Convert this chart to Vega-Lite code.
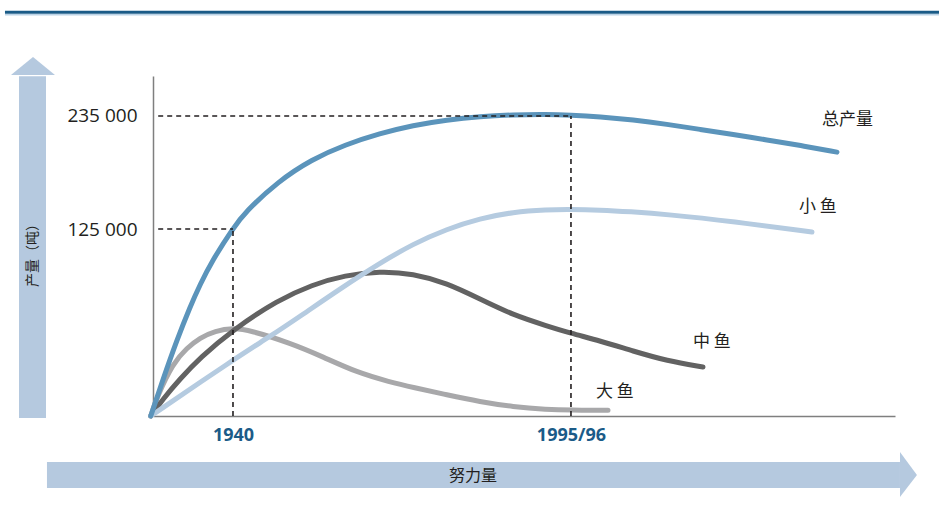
{
  "$schema": "https://vega.github.io/schema/vega-lite/v6.json",
  "width": 742,
  "height": 340,
  "autosize": {"type": "none"},
  "padding": {"left": 153, "top": 76, "right": 44, "bottom": 98},
  "background": "#ffffff",
  "config": {"view": {"stroke": null}, "font": "Open Sans"},
  "datasets": {
    "curves": [
      {"s": "大鱼", "x": -0.3, "y": 0}, {"s": "大鱼", "x": 0.54, "y": 5.6}, {"s": "大鱼", "x": 2.7, "y": 15.6}, {"s": "大鱼", "x": 4.58, "y": 20.0}, {"s": "大鱼", "x": 6.33, "y": 23.0}, {"s": "大鱼", "x": 8.36, "y": 25.0}, {"s": "大鱼", "x": 10.78, "y": 25.9}, {"s": "大鱼", "x": 13.07, "y": 25.2}, {"s": "大鱼", "x": 18.46, "y": 21.5}, {"s": "大鱼", "x": 22.91, "y": 17.4}, {"s": "大鱼", "x": 27.49, "y": 12.8}, {"s": "大鱼", "x": 31.94, "y": 10.0}, {"s": "大鱼", "x": 35.04, "y": 8.4}, {"s": "大鱼", "x": 39.62, "y": 6.2}, {"s": "大鱼", "x": 44.07, "y": 4.2}, {"s": "大鱼", "x": 48.52, "y": 2.7}, {"s": "大鱼", "x": 53.1, "y": 1.9}, {"s": "大鱼", "x": 56.2, "y": 1.7}, {"s": "大鱼", "x": 61.32, "y": 1.7},
      {"s": "中鱼", "x": -0.3, "y": 0}, {"s": "中鱼", "x": 1.35, "y": 5.0}, {"s": "中鱼", "x": 3.64, "y": 10.9}, {"s": "中鱼", "x": 6.33, "y": 17.1}, {"s": "中鱼", "x": 10.78, "y": 25.4}, {"s": "中鱼", "x": 16.85, "y": 34.1}, {"s": "中鱼", "x": 21.43, "y": 38.6}, {"s": "中鱼", "x": 25.88, "y": 41.4}, {"s": "中鱼", "x": 30.59, "y": 42.6}, {"s": "中鱼", "x": 35.04, "y": 41.9}, {"s": "中鱼", "x": 39.62, "y": 39.1}, {"s": "中鱼", "x": 44.07, "y": 34.4}, {"s": "中鱼", "x": 48.52, "y": 29.7}, {"s": "中鱼", "x": 53.1, "y": 26.5}, {"s": "中鱼", "x": 56.2, "y": 24.4}, {"s": "中鱼", "x": 60.24, "y": 22.1}, {"s": "中鱼", "x": 64.69, "y": 19.1}, {"s": "中鱼", "x": 69.27, "y": 16.2}, {"s": "中鱼", "x": 74.12, "y": 14.4},
      {"s": "小鱼", "x": -0.3, "y": 0}, {"s": "小鱼", "x": 10.78, "y": 16.5}, {"s": "小鱼", "x": 15.63, "y": 23.2}, {"s": "小鱼", "x": 19.81, "y": 29.3}, {"s": "小鱼", "x": 25.2, "y": 37.4}, {"s": "小鱼", "x": 30.59, "y": 45.0}, {"s": "小鱼", "x": 35.04, "y": 50.6}, {"s": "小鱼", "x": 39.62, "y": 55.0}, {"s": "小鱼", "x": 44.07, "y": 58.1}, {"s": "小鱼", "x": 48.52, "y": 60.0}, {"s": "小鱼", "x": 53.1, "y": 60.7}, {"s": "小鱼", "x": 56.2, "y": 60.8}, {"s": "小鱼", "x": 60.24, "y": 60.6}, {"s": "小鱼", "x": 64.29, "y": 60.1}, {"s": "小鱼", "x": 69.27, "y": 59.3}, {"s": "小鱼", "x": 78.17, "y": 57.2}, {"s": "小鱼", "x": 88.81, "y": 54.1},
      {"s": "总产量", "x": -0.3, "y": 0}, {"s": "总产量", "x": 1.35, "y": 10.8}, {"s": "总产量", "x": 3.23, "y": 22.4}, {"s": "总产量", "x": 4.99, "y": 32.1}, {"s": "总产量", "x": 6.33, "y": 38.6}, {"s": "总产量", "x": 7.95, "y": 45.6}, {"s": "总产量", "x": 10.78, "y": 55.2}, {"s": "总产量", "x": 12.4, "y": 59.9}, {"s": "总产量", "x": 16.85, "y": 69.0}, {"s": "总产量", "x": 21.43, "y": 75.5}, {"s": "总产量", "x": 25.88, "y": 79.8}, {"s": "总产量", "x": 30.59, "y": 83.1}, {"s": "总产量", "x": 35.04, "y": 85.5}, {"s": "总产量", "x": 39.62, "y": 87.1}, {"s": "总产量", "x": 44.07, "y": 88.1}, {"s": "总产量", "x": 48.52, "y": 88.6}, {"s": "总产量", "x": 53.1, "y": 88.7}, {"s": "总产量", "x": 56.2, "y": 88.5}, {"s": "总产量", "x": 60.24, "y": 88.0}, {"s": "总产量", "x": 64.69, "y": 87.1}, {"s": "总产量", "x": 69.27, "y": 85.8}, {"s": "总产量", "x": 73.72, "y": 84.3}, {"s": "总产量", "x": 78.17, "y": 82.8}, {"s": "总产量", "x": 82.75, "y": 81.2}, {"s": "总产量", "x": 87.2, "y": 79.6}, {"s": "总产量", "x": 92.18, "y": 77.6}
    ],
    "dashes": [
      {"x": 0.7, "x2": 56.33, "y": 88.24, "y2": 88.24},
      {"x": 0.7, "x2": 10.78, "y": 55.0, "y2": 55.0},
      {"x": 10.78, "x2": 10.78, "y": 0, "y2": 55.0},
      {"x": 56.33, "x2": 56.33, "y": 0, "y2": 88.24}
    ],
    "labels": [
      {"t": "总产量", "x": 90.16, "y": 87.06},
      {"t": "小 鱼", "x": 87.06, "y": 61.47},
      {"t": "中 鱼", "x": 72.78, "y": 21.76},
      {"t": "大 鱼", "x": 59.7, "y": 7.06}
    ],
    "bars": [
      {"x": -18.06, "x2": -14.42, "y": 99.9, "y2": -0.59},
      {"x": -14.29, "x2": 100.67, "y": -13.53, "y2": -21.18}
    ],
    "upHead": [
      {"x": -19.14, "y": 100.3, "y2": 100.3},
      {"x": -16.17, "y": 105.6, "y2": 100.3},
      {"x": -13.21, "y": 100.3, "y2": 100.3}
    ],
    "rightHead": [
      {"y": -10.59, "x": 100.67, "x2": 100.67},
      {"y": -17.35, "x": 102.96, "x2": 100.67},
      {"y": -23.82, "x": 100.67, "x2": 100.67}
    ]
  },
  "resolve": {"scale": {"color": "independent"}},
  "layer": [
    {
      "data": {"name": "bars"},
      "mark": {"type": "rect", "color": "#b5c9df"},
      "encoding": {
        "x": {"field": "x", "type": "quantitative", "scale": {"domain": [0, 100], "nice": false, "zero": false}, "axis": {"values": [10.78, 56.33], "labelExpr": "datum.value < 30 ? '1940' : '1995/96'", "labelFont": "Open Sans", "labelFontSize": 18, "labelFontWeight": "bold", "labelColor": "#1b5b88", "labelPadding": 10, "ticks": false, "grid": false, "domainColor": "#7f7f7f", "domainWidth": 1.5, "title": null, "labelOverlap": false}},
        "x2": {"field": "x2"},
        "y": {"field": "y", "type": "quantitative", "scale": {"domain": [0, 100], "nice": false, "zero": false}, "axis": {"values": [55, 88.24], "labelExpr": "datum.value > 70 ? '235 000' : '125 000'", "labelFont": "Open Sans", "labelFontSize": 19, "labelColor": "#231f20", "labelPadding": 16, "ticks": false, "grid": false, "domainColor": "#7f7f7f", "domainWidth": 1.5, "title": null, "labelOverlap": false}},
        "y2": {"field": "y2"}
      }
    },
    {
      "data": {"name": "upHead"},
      "mark": {"type": "area", "color": "#b5c9df", "interpolate": "linear", "orient": "vertical"},
      "encoding": {
        "x": {"field": "x", "type": "quantitative"},
        "y": {"field": "y", "type": "quantitative"},
        "y2": {"field": "y2"}
      }
    },
    {
      "data": {"name": "rightHead"},
      "mark": {"type": "area", "color": "#b5c9df", "interpolate": "linear", "orient": "horizontal"},
      "encoding": {
        "y": {"field": "y", "type": "quantitative"},
        "x": {"field": "x", "type": "quantitative"},
        "x2": {"field": "x2"}
      }
    },
    {
      "data": {"values": [{"x": -19.95, "x2": 105.93, "y": 118.75}]},
      "mark": {"type": "rule", "color": "#1a5b87", "strokeWidth": 3},
      "encoding": {
        "x": {"field": "x", "type": "quantitative"},
        "x2": {"field": "x2"},
        "y": {"field": "y", "type": "quantitative"}
      }
    },
    {
      "data": {"values": [{"x": -19.95, "x2": 105.93, "y": 118.05}]},
      "mark": {"type": "rule", "color": "#bcd3e6", "strokeWidth": 1.5},
      "encoding": {
        "x": {"field": "x", "type": "quantitative"},
        "x2": {"field": "x2"},
        "y": {"field": "y", "type": "quantitative"}
      }
    },
    {
      "data": {"values": [{"t": "努力量", "x": 43.13, "y": -17.65}]},
      "mark": {"type": "text", "font": "Noto Sans CJK SC", "fontSize": 16, "color": "#231f20", "align": "center", "baseline": "middle"},
      "encoding": {
        "x": {"field": "x", "type": "quantitative"},
        "y": {"field": "y", "type": "quantitative"},
        "text": {"field": "t"}
      }
    },
    {
      "data": {"values": [{"t": "产量（吨）", "x": -16.17, "y": 48.2}]},
      "mark": {"type": "text", "font": "Noto Sans CJK SC", "fontSize": 14, "color": "#231f20", "align": "center", "baseline": "middle", "angle": 270},
      "encoding": {
        "x": {"field": "x", "type": "quantitative"},
        "y": {"field": "y", "type": "quantitative"},
        "text": {"field": "t"}
      }
    },
    {
      "data": {"name": "curves"},
      "mark": {"type": "line", "interpolate": "basis", "strokeWidth": 5, "strokeCap": "round", "strokeJoin": "round"},
      "encoding": {
        "x": {"field": "x", "type": "quantitative"},
        "y": {"field": "y", "type": "quantitative"},
        "color": {"field": "s", "type": "nominal", "scale": {"domain": ["大鱼", "中鱼", "小鱼", "总产量"], "range": ["#a8a8aa", "#626262", "#b5cbe0", "#5b94bb"]}, "legend": null},
        "order": {"field": "x", "type": "quantitative"},
        "detail": {"field": "s"}
      }
    },
    {
      "data": {"name": "dashes"},
      "mark": {"type": "rule", "color": "#231f20", "strokeWidth": 1.6, "strokeDash": [5, 4]},
      "encoding": {
        "x": {"field": "x", "type": "quantitative"},
        "x2": {"field": "x2"},
        "y": {"field": "y", "type": "quantitative"},
        "y2": {"field": "y2"}
      }
    },
    {
      "data": {"name": "labels"},
      "mark": {"type": "text", "font": "Noto Sans CJK SC", "fontSize": 17, "color": "#231f20", "align": "left", "baseline": "middle"},
      "encoding": {
        "x": {"field": "x", "type": "quantitative"},
        "y": {"field": "y", "type": "quantitative"},
        "text": {"field": "t"}
      }
    }
  ]
}
